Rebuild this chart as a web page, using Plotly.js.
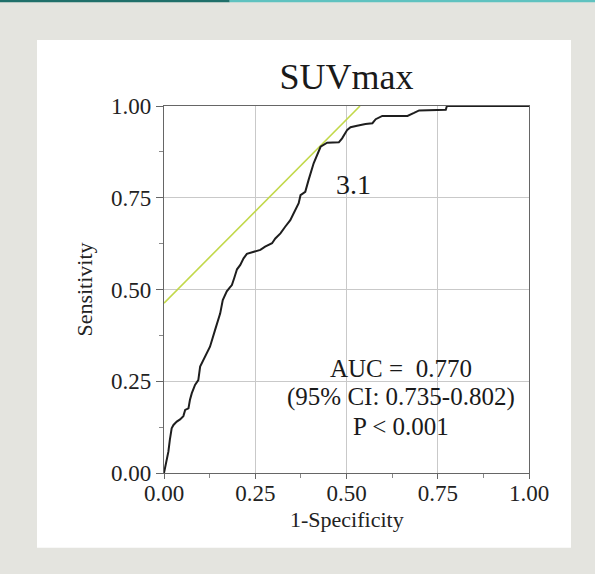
<!DOCTYPE html>
<html>
<head>
<meta charset="utf-8">
<script src="https://cdn.plot.ly/plotly-3.0.1.min.js"></script>
<style>html,body{margin:0;padding:0;background:#e4e4df;}#chart{width:595px;height:574px;}</style>
</head>
<body>
<div id="chart"></div>
<script>
// ROC curve points (1-Specificity, Sensitivity)
const fpr = [0.000,0.003,0.007,0.012,0.016,0.021,0.026,0.035,0.044,0.053,0.058,0.067,0.071,0.076,0.085,0.094,0.099,0.113,0.126,0.140,0.154,0.161,0.172,0.180,0.186,0.192,0.200,0.209,0.218,0.227,0.245,0.264,0.277,0.296,0.305,0.319,0.332,0.346,0.355,0.369,0.374,0.387,0.396,0.410,0.429,0.447,0.479,0.488,0.502,0.511,0.529,0.552,0.571,0.580,0.598,0.667,0.685,0.699,0.772,0.775,1.000];
const tpr = [0.000,0.014,0.035,0.058,0.090,0.122,0.131,0.140,0.146,0.155,0.172,0.176,0.199,0.217,0.240,0.253,0.290,0.320,0.344,0.390,0.435,0.471,0.495,0.505,0.512,0.530,0.555,0.567,0.585,0.597,0.603,0.608,0.617,0.626,0.639,0.653,0.671,0.689,0.707,0.735,0.757,0.766,0.798,0.844,0.889,0.900,0.901,0.912,0.935,0.942,0.946,0.951,0.953,0.964,0.973,0.973,0.981,0.988,0.990,1.000,1.000];
// Tangent (cut-off) line: sensitivity = (1-specificity) + intercept
const cutX = [0.0, 0.537];
const cutY = [0.463, 1.0];
const cutLabel = "3.1";
const titleText = "SUVmax";
const xTitle = "1-Specificity";
const yTitle = "Sensitivity";
const statLines = ["AUC =  0.770", "(95% CI: 0.735-0.802)", "P < 0.001"];
const tickVals = [0, 0.25, 0.5, 0.75, 1.0];
const tickText = ["0.00", "0.25", "0.50", "0.75", "1.00"];

const serif = "Liberation Serif, Times New Roman, serif";
const traces = [
  {x: cutX, y: cutY, mode: "lines", line: {color: "#c2d84a", width: 1.6}, hoverinfo: "skip"},
  {x: fpr, y: tpr, mode: "lines", line: {color: "#1e1e1e", width: 2}, hoverinfo: "skip"}
];
const axisCommon = {
  range: [0, 1], tickvals: tickVals, ticktext: tickText,
  showline: true, linecolor: "#666", linewidth: 1.2, mirror: true,
  ticks: "outside", ticklen: 7, tickcolor: "#666",
  minor: {tickvals: [0.125, 0.375, 0.625, 0.875], ticks: "outside", ticklen: 4, tickcolor: "#888", showgrid: false},
  showgrid: true, gridcolor: "#c9c9c9", gridwidth: 1, zeroline: false,
  tickfont: {family: serif, size: 23, color: "#222"}, fixedrange: true
};
const layout = {
  width: 595, height: 574,
  margin: {l: 164, r: 66, t: 106, b: 101},
  paper_bgcolor: "#e4e4df", plot_bgcolor: "#ffffff",
  showlegend: false,
  title: {text: titleText, font: {family: serif, size: 36, color: "#1a1a1a"}, x: 0.5, xanchor: "center", xref: "paper", y: 1 - 76/574, yanchor: "middle"},
  xaxis: Object.assign({}, axisCommon, {ticklen: 5, ticklabelstandoff: -6}),
  yaxis: Object.assign({}, axisCommon, {title: {text: yTitle, font: {family: serif, size: 22, color: "#222"}, standoff: 12}}),
  shapes: [
    {type: "rect", xref: "paper", yref: "paper", x0: -0.348, x1: 1.115, y0: -0.204, y1: 1.18, fillcolor: "#ffffff", line: {width: 0}, layer: "below"},
    {type: "rect", xref: "paper", yref: "paper", x0: -0.46, x1: 0.18, y0: 1.283, y1: 1.30, fillcolor: "#1f6f6a", line: {width: 0}, layer: "below"},
    {type: "rect", xref: "paper", yref: "paper", x0: 0.18, x1: 1.2, y0: 1.283, y1: 1.30, fillcolor: "#5fc2c0", line: {width: 0}, layer: "below"}
  ],
  annotations: [
    {x: 0.5, y: -46/367, xref: "paper", yref: "paper", text: xTitle, showarrow: false, yanchor: "middle", font: {family: serif, size: 22, color: "#222"}},
    {x: 0.52, y: 0.785, xref: "x", yref: "y", text: cutLabel, showarrow: false, font: {family: serif, size: 28, color: "#1a1a1a"}},
    {x: 0.65, y: 0.286, xref: "x", yref: "y", text: statLines[0], showarrow: false, font: {family: serif, size: 25, color: "#1a1a1a"}},
    {x: 0.65, y: 0.207, xref: "x", yref: "y", text: statLines[1], showarrow: false, font: {family: serif, size: 25, color: "#1a1a1a"}},
    {x: 0.65, y: 0.128, xref: "x", yref: "y", text: statLines[2], showarrow: false, font: {family: serif, size: 25, color: "#1a1a1a"}}
  ]
};
Plotly.newPlot("chart", traces, layout, {staticPlot: true, displayModeBar: false});
</script>
</body>
</html>
